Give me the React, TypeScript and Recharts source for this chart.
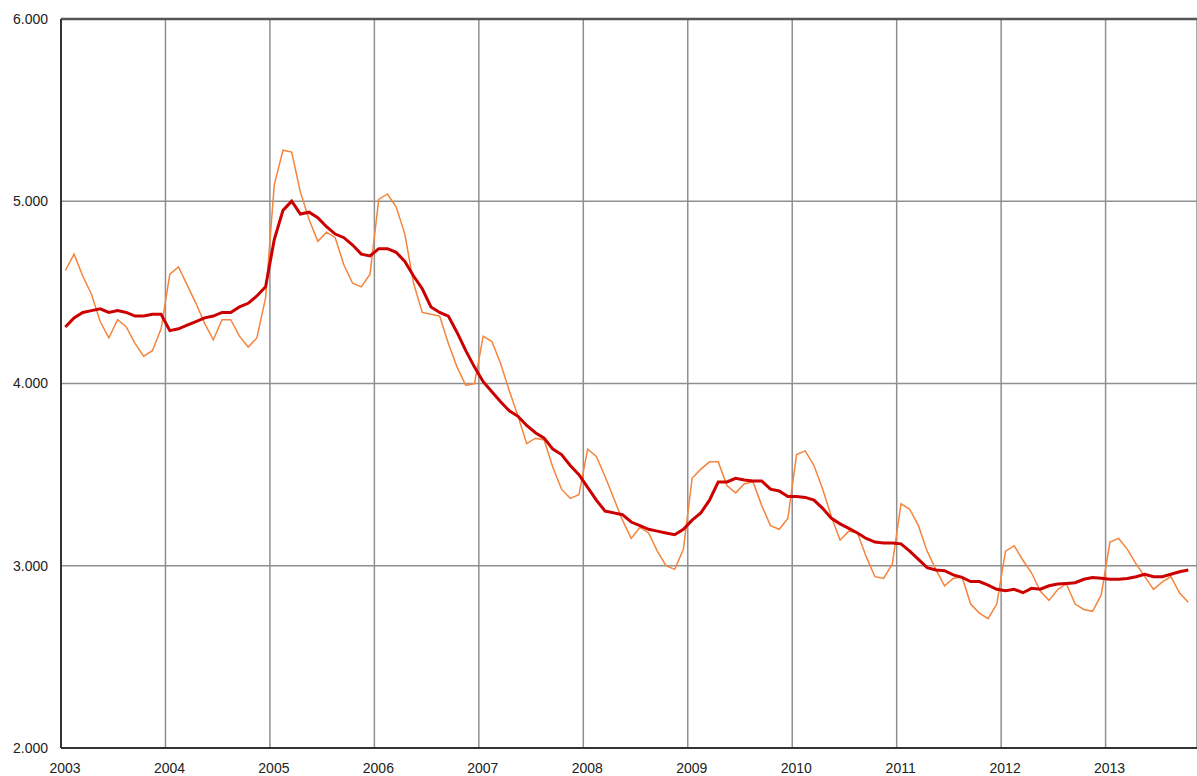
import { LineChart, Line, XAxis, YAxis, CartesianGrid, ReferenceLine } from "recharts";

// year labels on the x axis (one gridline per January)
const years = [2003, 2004, 2005, 2006, 2007, 2008, 2009, 2010, 2011, 2012, 2013];

const yTicks = [2, 3, 4, 5, 6];

// thin orange line, monthly values Jan 2003 .. Oct 2013
const monthly = [
  4.62, 4.71, 4.59, 4.49, 4.34, 4.25, 4.35, 4.31, 4.22, 4.15, 4.18, 4.3,
  4.6, 4.64, 4.54, 4.44, 4.33, 4.24, 4.35, 4.35, 4.26, 4.2, 4.25, 4.47,
  5.09, 5.28, 5.27, 5.05, 4.9, 4.78, 4.83, 4.8, 4.65, 4.55, 4.53, 4.6,
  5.01, 5.04, 4.97, 4.82, 4.55, 4.39, 4.38, 4.37, 4.22, 4.09, 3.99, 4.0,
  4.26, 4.23, 4.11, 3.96, 3.82, 3.67, 3.7, 3.69, 3.54, 3.42, 3.37, 3.39,
  3.64, 3.6, 3.49, 3.37, 3.25, 3.15, 3.21, 3.18, 3.08, 3.0, 2.98, 3.09,
  3.48, 3.53, 3.57, 3.57, 3.44, 3.4, 3.45, 3.46, 3.33, 3.22, 3.2, 3.26,
  3.61, 3.63, 3.55, 3.42, 3.27, 3.14, 3.19, 3.18, 3.05, 2.94, 2.93, 3.01,
  3.34, 3.31, 3.22, 3.08, 2.98, 2.89, 2.93, 2.94, 2.79, 2.74, 2.71, 2.79,
  3.08, 3.11, 3.03, 2.96, 2.86, 2.81, 2.87, 2.9, 2.79, 2.76, 2.75, 2.84,
  3.13, 3.15, 3.09, 3.01, 2.94, 2.87, 2.91, 2.94, 2.85, 2.8,
];

// thick red line, smoothed trend
const trend = [
  4.31, 4.36, 4.39, 4.4, 4.41, 4.39, 4.4, 4.39, 4.37, 4.37, 4.38, 4.38,
  4.29, 4.3, 4.32, 4.34, 4.36, 4.37, 4.39, 4.39, 4.42, 4.44, 4.48, 4.53,
  4.79, 4.95, 5.0, 4.93, 4.94, 4.91, 4.86, 4.82, 4.8, 4.76, 4.71, 4.7,
  4.74, 4.74, 4.72, 4.67, 4.59, 4.52, 4.42, 4.39, 4.37, 4.28, 4.18, 4.09,
  4.01, 3.955, 3.9, 3.85, 3.82, 3.77, 3.73, 3.7, 3.64, 3.61, 3.55, 3.5,
  3.43, 3.36, 3.3, 3.29, 3.28, 3.24, 3.22, 3.2, 3.19, 3.18, 3.17, 3.2,
  3.25, 3.29, 3.36, 3.46, 3.46, 3.48, 3.47, 3.465, 3.465, 3.42, 3.41, 3.38,
  3.38, 3.375, 3.36, 3.315, 3.26, 3.23, 3.205, 3.18, 3.15, 3.13, 3.125, 3.125,
  3.12, 3.08, 3.035, 2.99, 2.977, 2.973, 2.95, 2.936, 2.913, 2.913, 2.894, 2.871,
  2.863, 2.871, 2.852, 2.876, 2.871, 2.89, 2.9, 2.903, 2.907, 2.926, 2.935, 2.931,
  2.926, 2.926, 2.93, 2.94, 2.953, 2.94, 2.94, 2.953, 2.967, 2.977,
];

// points sit in the middle of their month
const data = monthly.map((v, i) => ({ t: i + 0.5, monthly: v, trend: trend[i] }));
const xTicks = years.map((_, i) => i * 12);

const font = "Arial, 'Liberation Sans', sans-serif";

export default function App() {
  return (
    <div style={{ position: "absolute", left: 0, top: 0, background: "#fff" }}>
      <LineChart
        width={1197}
        height={776}
        data={data}
        margin={{ top: 19, right: 0, bottom: 0, left: 0 }}
      >
        <CartesianGrid stroke="#8f8f8f" strokeWidth={1.5} />
        <XAxis
          dataKey="t"
          type="number"
          domain={[0, 130.5]}
          ticks={xTicks}
          tickFormatter={(v: number) => String(years[v / 12])}
          height={28}
          tickSize={0}
          tickMargin={15}
          axisLine={{ stroke: "#333", strokeWidth: 2 }}
          tick={{ fill: "#222", fontSize: 14, fontFamily: font, dx: 4 }}
          allowDataOverflow
        />
        <YAxis
          type="number"
          domain={[2, 6]}
          ticks={yTicks}
          tickFormatter={(v: number) => v.toFixed(3)}
          width={61}
          tickSize={0}
          tickMargin={13}
          axisLine={{ stroke: "#333", strokeWidth: 2 }}
          tick={{ fill: "#222", fontSize: 14, fontFamily: font }}
        />
        <ReferenceLine y={6} stroke="#555" strokeWidth={2.5} />
        <Line
          type="linear"
          dataKey="monthly"
          stroke="#f5843c"
          strokeWidth={1.5}
          dot={false}
          isAnimationActive={false}
        />
        <Line
          type="linear"
          dataKey="trend"
          stroke="#cc0000"
          strokeWidth={3}
          dot={false}
          isAnimationActive={false}
        />
      </LineChart>
    </div>
  );
}
